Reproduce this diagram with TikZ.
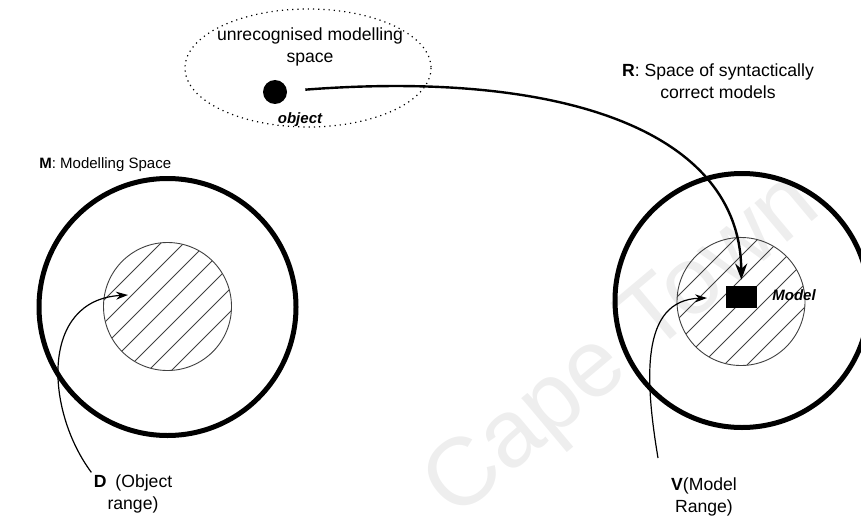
\documentclass[tikz,border=0pt]{standalone}
\usepackage{fontspec}
\setmainfont{Liberation Sans}
\usetikzlibrary{arrows.meta}
\tikzset{>=Stealth,every node/.style={font=\fontsize{8.8}{11}\selectfont},
 ring/.style={line width=2.5pt},zone/.style={draw=black!75,line width=.45pt},hatch/.style={black!75,line width=.4pt},
 flow/.style={line width=1.2pt,-{Stealth[length=8pt,width=6pt]}},link/.style={line width=.6pt,-{Stealth[length=6pt,width=4pt]}},
 tag/.style={align=center,inner sep=1pt},tagit/.style={inner sep=1pt,font=\fontsize{7.5}{9}\selectfont\bfseries\itshape}}

\begin{document}
\begin{tikzpicture}[x=.5pt,y=-.5pt]
\useasboundingbox (0,0) rectangle (861,519);
\node[rotate=40,text=gray!13,font=\fontsize{48}{48}\selectfont] (wm) at (624,348) {Cape Town};
% unrecognised space
\draw[dotted,line width=.6pt] (308,68) ellipse[x radius=123,y radius=59];
\node[tag] (unrec) at (310,47) {unrecognised modelling\\space};
\node[circle,fill,inner sep=0,minimum size=12pt] (obj) at (275,92) {};\node[tagit] (objlab) at (300,120) {object};
% M and D
\draw[ring] (167.5,307) circle[radius=128.5];
\begin{scope}\clip (167.5,306.5) circle[radius=64];
\foreach \k in {-6,...,6} \draw[hatch] (167+\k*23-70,306+70) -- ++(140,-140);
\end{scope}
\draw[zone] (167.5,306.5) circle[radius=64];
\node[anchor=west,inner sep=1pt,font=\fontsize{7.5}{9}\selectfont] (mlab) at (37,165) {\textbf{M}: Modelling Space};
\node[tag] (dlab) at (133,494) {\textbf{D}\hspace{4.5pt}(Object\\range)};\coordinate (dtip) at (128,295);
\draw[link] (dlab.north west) .. controls (45,410) and (40,300) .. (dtip);
% R and V
\draw[ring] (742,300.5) circle[radius=127];
\begin{scope}\clip (741,301.5) circle[radius=64];
\foreach \k in {-6,...,6} \draw[hatch] (741+\k*23-70,302+70) -- ++(140,-140);
\end{scope}
\draw[zone] (741,301.5) circle[radius=64];
\node[fill,inner sep=0,minimum width=15.5pt,minimum height=11pt] (model) at (741.5,297) {};
\node[tagit,anchor=west] (modlab) at (770,295) {Model};
\node[tag] (rlab) at (718,81) {\textbf{R}: Space of syntactically\\correct models};
\node[tag] (vlab) at (704,497) {\textbf{V}(Model\\Range)};
\coordinate (vfoot) at (658,458);\coordinate (vtip) at (707,298);
\draw[link] (vfoot) .. controls (645,380) and (640,300) .. (vtip);
\draw[flow,shorten <=9pt,shorten >=3pt] (obj) .. controls (560,70) and (740,130) .. (model);
\end{tikzpicture}
\end{document}
